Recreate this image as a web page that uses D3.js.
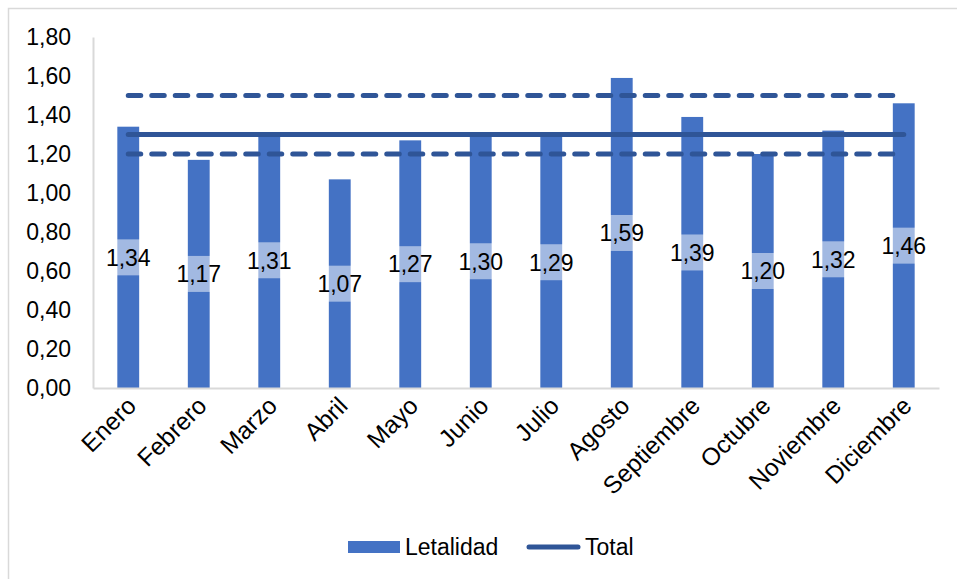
<!DOCTYPE html>
<html><head><meta charset="utf-8">
<script src="https://cdn.jsdelivr.net/npm/d3@7"></script>
<style>body{margin:0;background:#fff;} text{font-family:"Liberation Sans",Arial,sans-serif;}</style>
</head><body>
<svg id="c" width="957" height="579"></svg>
<script>
const months = ["Enero","Febrero","Marzo","Abril","Mayo","Junio","Julio","Agosto","Septiembre","Octubre","Noviembre","Diciembre"];
const letalidad = [1.34,1.17,1.31,1.07,1.27,1.30,1.29,1.59,1.39,1.20,1.32,1.46];
const total = 1.30;
const upperBand = 1.50;
const lowerBand = 1.20;
const yTicks = [0,0.2,0.4,0.6,0.8,1.0,1.2,1.4,1.6,1.8];

const svg = d3.select("#c");
const W = 957, H = 579;
const m = {left:93, right:939, top:37, bottom:388};
const fmt = v => d3.format(".2f")(v).replace(".", ",");
const FS = 23;

svg.append("rect").attr("x",8.5).attr("y",8.5).attr("width",W).attr("height",H)
  .attr("fill","#fff").attr("stroke","#d9d9d9").attr("stroke-width",1.5);

const x = d3.scaleBand().domain(months).range([m.left,m.right]).paddingInner(0.69).paddingOuter(0.345);
const xc = d3.scaleBand().domain(months).range([m.left,m.right]);
const y = d3.scaleLinear().domain([0,1.8]).range([m.bottom,m.top]);

// y axis
const ya = svg.append("g").attr("transform",`translate(${m.left},0)`)
  .call(d3.axisLeft(y).tickValues(yTicks).tickFormat(fmt).tickSize(0).tickPadding(22));
ya.select(".domain").attr("stroke","#d9d9d9").attr("stroke-width",2);
ya.selectAll("text").attr("font-size",FS).attr("fill","#000").style("font-family","Liberation Sans, Arial, sans-serif");

// bars
svg.append("g").selectAll("rect").data(letalidad).join("rect")
  .attr("x",(d,i)=>x(months[i])).attr("width",x.bandwidth())
  .attr("y",d=>y(d)).attr("height",d=>y(0)-y(d)).attr("fill","#4472c4");

// x axis
const xa = svg.append("g").attr("transform",`translate(0,${m.bottom})`)
  .call(d3.axisBottom(xc).tickSize(0).tickFormat(d=>d));
xa.select(".domain").attr("stroke","#d9d9d9").attr("stroke-width",2);
xa.selectAll("text").attr("font-size",24.5).attr("fill","#000")
  .style("font-family","Liberation Sans, Arial, sans-serif")
  .attr("text-anchor","end").attr("dy",null).attr("y",0)
  .attr("transform","translate(-3,7) rotate(-45)")
  .attr("dominant-baseline","hanging");

// reference lines
const x0 = xc(months[0]) + xc.bandwidth()/2, x1 = xc(months[11]) + xc.bandwidth()/2;
const lines = [{v:upperBand,dash:"12.5,11"},{v:total,dash:null},{v:lowerBand,dash:"12.5,11"}];
svg.append("g").selectAll("line").data(lines).join("line")
  .attr("x1",x0).attr("x2",x1).attr("y1",d=>y(d.v)).attr("y2",d=>y(d.v))
  .attr("stroke","#2f5597").attr("stroke-width",5).attr("stroke-linecap","round")
  .attr("stroke-dasharray",d=>d.dash);

// data labels
const lab = svg.append("g").selectAll("g").data(letalidad).join("g")
  .attr("transform",(d,i)=>`translate(${xc(months[i])+xc.bandwidth()/2},${y(d/2)})`);
lab.append("rect").attr("x",-27).attr("y",-18).attr("width",54).attr("height",36)
  .attr("fill","#fff").attr("fill-opacity",0.5);
lab.append("text").attr("text-anchor","middle").attr("dy","0.36em")
  .attr("font-size",FS).attr("fill","#000").text(d=>fmt(d));

// legend
const lg = svg.append("g");
lg.append("rect").attr("x",348).attr("y",541).attr("width",52).attr("height",12).attr("fill","#4472c4");
lg.append("text").attr("x",405).attr("y",547).attr("dy","0.36em").attr("font-size",FS).text("Letalidad");
lg.append("line").attr("x1",529).attr("x2",578).attr("y1",547).attr("y2",547)
  .attr("stroke","#2f5597").attr("stroke-width",5).attr("stroke-linecap","round");
lg.append("text").attr("x",585).attr("y",547).attr("dy","0.36em").attr("font-size",FS).text("Total");
</script>
</body></html>
